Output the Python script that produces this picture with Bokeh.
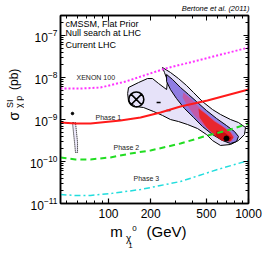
from math import pi
from bokeh.plotting import figure
from bokeh.layouts import column, row
from bokeh.models import (Label, LogAxis, FixedTicker, CustomJSTickFormatter, Range1d)
from bokeh.embed import file_html
from bokeh.resources import INLINE

FONT = "Liberation Sans"

# ---------------- data (m in GeV, sigma in pb) ----------------
xenon_m = [45.4, 63.1, 87.7, 132.3, 255.4, 493, 1000]
xenon_sigma = [5.47e-9, 5.47e-9, 5.78e-9, 8.03e-9, 1.64e-8, 2.83e-8, 5.18e-8]

phase1_m = [45.4, 58.1, 74.4, 103.3, 121.8, 169.3, 235, 326.6, 509, 1000]
phase1_sigma = [8.49e-10, 8.03e-10, 8.03e-10, 8.96e-10, 9.46e-10, 1.12e-9, 1.47e-9, 2.04e-9, 2.83e-9, 5.18e-9]

phase2_m = [45.4, 58.1, 74.4, 103.3, 143.5, 199.5, 326.6, 509, 743, 1000]
phase2_sigma = [1.25e-10, 1.12e-10, 1.12e-10, 1.25e-10, 1.55e-10, 1.83e-10, 2.68e-10, 4.16e-10, 5.78e-10, 8.03e-10]

phase3_m = [45.4, 58.1, 74.4, 103.3, 169.3, 235, 326.6, 601, 1000]
phase3_sigma = [1.64e-11, 1.55e-11, 1.55e-11, 1.73e-11, 2.15e-11, 2.68e-11, 3.34e-11, 6.45e-11, 1.06e-10]

# outer (95%) credible contour
outer_m = [243, 277, 316, 361, 405, 469, 553, 631, 744, 848, 952, 936, 848, 744, 631,
           553, 501, 432, 367, 316, 277, 243, 210, 178, 156, 139, 137, 139, 164, 190,
           206, 228, 260, 264, 251]
outer_sigma = [1.73e-8, 1.32e-8, 9.47e-9, 6.45e-9, 4.39e-9, 2.68e-9, 1.73e-9, 1.32e-9, 1.00e-9,
               8.48e-10, 6.45e-10, 4.39e-10, 3.16e-10, 2.54e-10, 2.41e-10, 3.16e-10, 4.39e-10,
               6.11e-10, 7.60e-10, 8.96e-10, 1.00e-9, 1.25e-9, 1.55e-9, 1.93e-9, 2.04e-9,
               2.68e-9, 4.16e-9, 5.78e-9, 7.60e-9, 9.47e-9, 9.47e-9, 7.20e-9, 5.18e-9,
               8.48e-9, 1.32e-8]

# inner (68%) credible contour
inner_m = [260, 287, 327, 373, 425, 501, 591, 696, 794, 848, 821, 744, 652, 553, 469,
           405, 349, 306, 277, 260]
inner_sigma = [1.18e-8, 8.96e-9, 5.78e-9, 3.94e-9, 2.68e-9, 1.64e-9, 1.06e-9, 7.20e-10,
               5.18e-10, 3.94e-10, 2.99e-10, 2.68e-10, 3.16e-10, 4.39e-10, 6.82e-10,
               1.12e-9, 1.83e-9, 3.16e-9, 5.18e-9, 8.03e-9]

# high posterior density ridge
ridge_m = [343, 392, 454, 535, 631, 744, 794, 756, 652, 553, 469, 405, 361, 338]
ridge_sigma = [4.39e-9, 2.99e-9, 1.83e-9, 1.12e-9, 7.60e-10, 5.18e-10, 3.94e-10, 2.99e-10,
               3.34e-10, 4.90e-10, 7.60e-10, 1.32e-9, 2.28e-9, 3.34e-9]

peak_m = [439, 501, 572, 652, 744, 781, 744, 652, 572, 501, 447]
peak_sigma = [1.83e-9, 1.32e-9, 8.96e-10, 6.82e-10, 4.90e-10, 3.73e-10, 2.99e-10, 3.16e-10,
              4.16e-10, 6.45e-10, 1.12e-9]

core_m = [591, 674, 756, 732, 641, 581]
core_sigma = [5.47e-10, 4.90e-10, 3.73e-10, 2.99e-10, 3.16e-10, 4.16e-10]

best_m = [696]
best_sigma = [3.53e-10]

# light-neutralino strip
strip_m = [55.3, 56.2, 57.2, 58.1, 60.1, 60.1, 59.1, 58.1]
strip_sigma = [8.48e-10, 4.90e-10, 2.83e-10, 1.64e-10, 1.64e-10, 2.83e-10, 4.90e-10, 8.48e-10]
strip_dot_m = [55.3]
strip_dot_sigma = [1.39e-9]

# isolated points
iso_m = [228, 268]
iso_sigma = [2.54e-9, 1.64e-9]

# posterior mean marker
mean_m = [158]
mean_sigma = [3.0e-9]

x_ticks = [100, 200, 500, 1000]
x_tick_labels = ["100", "200", "500", "1000"]
x_minor = [50, 60, 70, 80, 90, 300, 400, 600, 700, 800, 900]
y_ticks = [1e-11, 1e-10, 1e-9, 1e-8, 1e-7]
y_minor = [k * 10.0 ** e for e in range(-12, -6) for k in range(2, 10)]

W, H = 266, 253
TOP_H, BOT_H, LEFT_W = 14, 30, 24
MID_H = H - TOP_H - BOT_H


def text_panel(w, h, y0):
    f = figure(width=w, height=h, x_range=Range1d(0, w), y_range=Range1d(y0 + h, y0),
               output_backend="svg", toolbar_location=None, min_border=0,
               x_axis_location=None, y_axis_location=None)
    f.xgrid.visible = False
    f.ygrid.visible = False
    f.outline_line_color = None
    return f


def plabel(f, t, x, y, size, angle=0, style="normal", align="center"):
    f.add_layout(Label(x=x, y=y, text=t, text_font=FONT, text_font_size=size,
                       text_color="black", text_font_style=style, text_align=align,
                       text_baseline="middle", angle=angle))


# ---------------- main figure ----------------
p = figure(width=W - LEFT_W, height=MID_H, x_axis_type="log", y_axis_type="log",
           x_range=(45.4, 1000), y_range=(1e-11, 3.0e-7),
           output_backend="svg", toolbar_location=None,
           min_border_left=36, min_border_right=18, min_border_top=1, min_border_bottom=20)
p.xgrid.visible = False
p.ygrid.visible = False
p.outline_line_color = "black"
p.outline_line_width = 1.5

xt = FixedTicker(ticks=x_ticks, minor_ticks=x_minor)
yt = FixedTicker(ticks=y_ticks, minor_ticks=y_minor)

for ax in (p.xaxis[0], p.yaxis[0]):
    ax.major_tick_in = 5
    ax.major_tick_out = 0
    ax.minor_tick_in = 3
    ax.minor_tick_out = 0
    ax.axis_line_width = 1.5
    ax.major_tick_line_width = 1.2
    ax.major_label_text_font = FONT
    ax.major_label_text_color = "black"
    ax.major_label_text_font_size = "12px"

p.xaxis[0].ticker = xt
p.yaxis[0].ticker = yt
p.xaxis[0].major_label_overrides = dict(zip(x_ticks, x_tick_labels))
p.xaxis[0].major_label_standoff = 5
p.yaxis[0].major_label_standoff = 3

empty = CustomJSTickFormatter(code="return ''")
top = LogAxis(ticker=xt, formatter=empty, major_tick_in=5, major_tick_out=0,
              minor_tick_in=3, minor_tick_out=0, axis_line_width=1.5,
              major_label_standoff=0, major_label_text_font_size="1px")
right = LogAxis(ticker=yt, formatter=empty, major_tick_in=5, major_tick_out=0,
                minor_tick_in=3, minor_tick_out=0, axis_line_width=1.5,
                major_label_standoff=0, major_label_text_font_size="1px")
p.add_layout(top, "above")
p.add_layout(right, "right")

# contours
p.patch(outer_m, outer_sigma, fill_color="#e6e2f9", line_color="black", line_width=1)
p.patch(inner_m, inner_sigma, fill_color="#8f7de2", line_color="black", line_width=1)
p.patch(ridge_m, ridge_sigma, fill_color="#c25aa8", line_color=None)
p.patch(peak_m, peak_sigma, fill_color="#e8262e", line_color=None)
p.patch(core_m, core_sigma, fill_color="#c80c10", line_color=None)
p.scatter(best_m, best_sigma, size=5, color="black")
p.patch(strip_m, strip_sigma, fill_color="#eeeafc", line_color="black", line_width=1,
        line_dash="1 1")
p.scatter(strip_dot_m, strip_dot_sigma, size=2.5, color="black")
p.scatter(iso_m, iso_sigma, marker="dash", size=4, line_color="black", line_width=1.5)
p.scatter(mean_m, mean_sigma, marker="circle_x", size=15, fill_color=None,
          line_color="black", line_width=1.6)

# limits
p.line(xenon_m, xenon_sigma, line_color="#ff33ff", line_width=2, line_dash="2 2")
p.line(phase1_m, phase1_sigma, line_color="#ff1a1a", line_width=2)
p.line(phase2_m, phase2_sigma, line_color="#22dd22", line_width=2, line_dash="6 4")
p.line(phase3_m, phase3_sigma, line_color="#22dddd", line_width=1.5, line_dash="6 3 2 3")


def dlabel(t, x, y, size, color="#222222"):
    p.add_layout(Label(x=x, y=y, text=t, text_font=FONT, text_font_size=size,
                       text_color=color, text_baseline="middle", text_align="left"))


dlabel("cMSSM, Flat Prior", 49.3, 1.93e-7, "9px", "black")
dlabel("Null search at LHC", 49.3, 1.12e-7, "9px", "black")
dlabel("Current LHC", 49.3, 6.11e-8, "9px", "black")
dlabel("XENON  100", 59.1, 1.0e-8, "7px")
dlabel("Phase 1", 80.8, 1.12e-9, "7px")
dlabel("Phase 2", 108.6, 2.15e-10, "7px")
dlabel("Phase 3", 150.9, 3.94e-11, "7px")

# ---------------- text panels (page pixel coordinates) ----------------
ptop = text_panel(W, TOP_H, 0)
plabel(ptop, "Bertone et al. (2011)", 249, 8, "7.5px", style="italic", align="right")

pleft = text_panel(LEFT_W, MID_H, TOP_H)
plabel(pleft, "σ", 13, 126, "14px", angle=pi / 2)
plabel(pleft, "SI", 9, 112, "9px", angle=pi / 2)
plabel(pleft, "χ p", 18, 110, "9px", angle=pi / 2)
plabel(pleft, "(pb)", 13, 85, "12px", angle=pi / 2)

pbot = text_panel(W, BOT_H, TOP_H + MID_H)
plabel(pbot, "m", 116, 231, "15px")
plabel(pbot, "χ", 128, 238, "10px")
plabel(pbot, "0", 134, 228, "8px")
plabel(pbot, "1", 130, 245, "8px")
plabel(pbot, "(GeV)", 166, 231, "15px")

layout = column(ptop, row(pleft, p), pbot)

open("out.html", "w").write(file_html(layout, INLINE))
